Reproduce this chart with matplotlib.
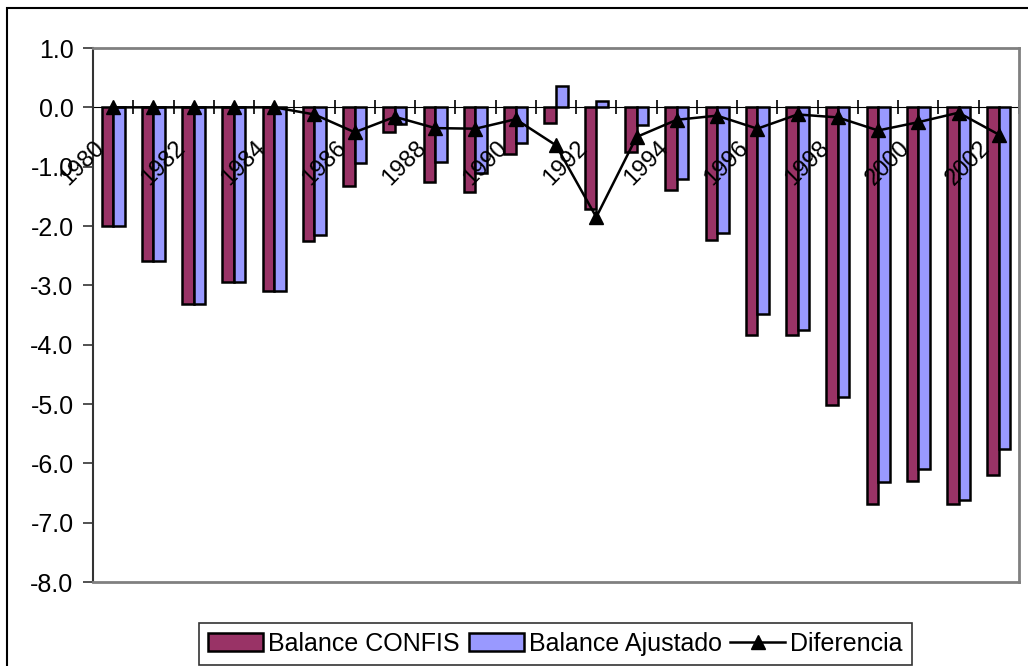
import matplotlib
matplotlib.use("Agg")
import matplotlib.pyplot as plt
from matplotlib.patches import Rectangle
import numpy as np

plt.rcParams['font.family'] = ['Liberation Sans', 'DejaVu Sans']

years = [str(y) for y in range(1980, 2003)]
balance_confis = [-2.0, -2.59, -3.32, -2.95, -3.10, -2.25, -1.33, -0.42, -1.25, -1.42,
                  -0.78, -0.26, -1.71, -0.76, -1.40, -2.23, -3.83, -3.83, -5.02, -6.69,
                  -6.30, -6.68, -6.20]
balance_ajustado = [-2.0, -2.59, -3.32, -2.95, -3.10, -2.15, -0.93, -0.28, -0.92, -1.10,
                    -0.60, 0.36, 0.11, -0.29, -1.21, -2.12, -3.49, -3.76, -4.88, -6.32,
                    -6.09, -6.61, -5.76]
diferencia = [0.0, 0.0, 0.0, 0.0, 0.0, -0.12, -0.42, -0.16, -0.35, -0.36,
              -0.20, -0.64, -1.85, -0.50, -0.21, -0.14, -0.36, -0.12, -0.17, -0.39,
              -0.25, -0.09, -0.46]
series_names = ['Balance CONFIS', 'Balance Ajustado', 'Diferencia']
yticks = [1.0, 0.0, -1.0, -2.0, -3.0, -4.0, -5.0, -6.0, -7.0, -8.0]

W, H = 1028, 666
fig = plt.figure(figsize=(W / 100, H / 100), dpi=100)
ax = fig.add_axes([93 / W, 1 - 582 / H, (1019 - 93) / W, (582 - 48) / H])

n = len(years)
x = np.arange(n)
bw = 1 / 3.5
b1 = ax.bar(x - bw / 2, balance_confis, bw, color='#993366', edgecolor='black',
            linewidth=1.8, label=series_names[0], zorder=2)
b2 = ax.bar(x + bw / 2, balance_ajustado, bw, color='#9999FF', edgecolor='black',
            linewidth=1.8, label=series_names[1], zorder=2)
l1, = ax.plot(x, diferencia, color='black', linewidth=1.8, marker='^', markersize=10,
              label=series_names[2], zorder=4)

ax.set_xlim(-0.5, n - 0.5)
ax.set_ylim(-8, 1)

# Plot area border
for s in ['top', 'right', 'bottom']:
    ax.spines[s].set_color('#808080')
    ax.spines[s].set_linewidth(2)
ax.spines['left'].set_color('#333333')
ax.spines['left'].set_linewidth(1.5)

ax.set_yticks(yticks)
ax.set_yticklabels(['%.1f' % v for v in yticks])
ax.tick_params(axis='y', direction='out', length=7, width=1.2, pad=7,
               labelsize=18, color='#333333')
ax.set_xticks([])

# Category axis at y=0
sec = ax.secondary_xaxis(8 / 9)
sec.spines['bottom'].set_color('black')
sec.spines['bottom'].set_linewidth(1.5)
sec.set_xticks(np.arange(-0.5, n, 1.0))
sec.set_xticklabels([])
sec.tick_params(axis='x', direction='inout', length=10, width=1.2, color='black')

for i, lab in enumerate(years):
    if i % 2 == 0:
        ax.annotate(lab, xy=(x[i], 0), xycoords='data', xytext=(-14, -21),
                    textcoords='offset points', rotation=45, ha='right', va='top',
                    rotation_mode='anchor', fontsize=17, zorder=5)

# outer chart frame
fig.patches.append(Rectangle((7 / W, -0.1), 2, 1 - 8 / H + 0.1, fill=False,
                             edgecolor='black', linewidth=1.5,
                             transform=fig.transFigure, figure=fig))

leg = fig.legend(handles=[b1, b2, l1], labels=series_names,
                 loc='upper center', bbox_to_anchor=((197 + 914) / 2 / W, 1 - 623 / H),
                 ncol=3, frameon=True, fontsize=18, handlelength=2.2,
                 handletextpad=0.2, columnspacing=0.35, borderpad=0.35,
                 borderaxespad=0, fancybox=False)
leg.get_frame().set_edgecolor('black')
leg.get_frame().set_linewidth(1.2)

fig.savefig('out.png', dpi=100)
